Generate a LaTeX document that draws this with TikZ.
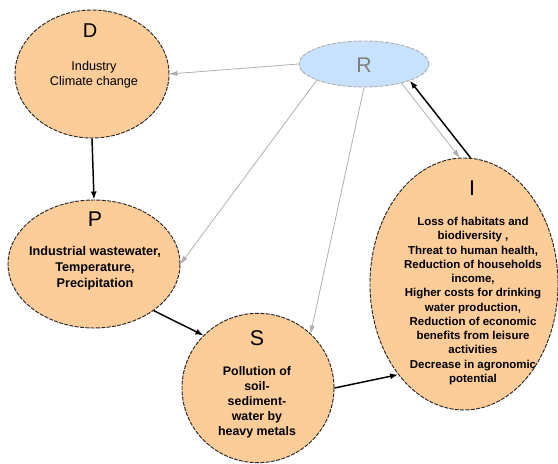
\documentclass[tikz,border=0pt]{standalone}
\usepackage{fontspec}
\setmainfont{Liberation Sans}
\usetikzlibrary{shapes.geometric, arrows.meta, patterns}

\definecolor{peach}{RGB}{252,204,153}
\definecolor{skyfill}{RGB}{196,224,255}
\definecolor{linkgray}{RGB}{175,175,175}

\begin{document}
\begin{tikzpicture}[
            x=0.75pt, y=-0.75pt,
            stage/.style={ellipse, draw=black!85, fill=peach, line width=0.7pt, dash pattern=on 3pt off 1pt, inner sep=0pt},
            title/.style={font=\fontsize{16}{18}\selectfont},
            body/.style={align=center, font=\fontsize{9.5}{11.5}\selectfont\bfseries},
            weak/.style={draw=linkgray, line width=0.6pt, -{Triangle[length=6pt, width=3.5pt]}},
            strong/.style={draw=black, line width=1.1pt, -{Latex[length=6pt, width=4.5pt]}},
        ]
            \useasboundingbox (0,0) rectangle (558,464);

            % the five ellipses
            \node[stage, minimum width=115.5pt, minimum height=96pt] (D) at (92,74) {};
            \node[stage, minimum width=129pt, minimum height=96pt] (P) at (94,264) {};
            \node[stage, minimum width=114pt, minimum height=112pt] (S) at (258,388) {};
            \node[stage, minimum width=141pt, minimum height=189pt] (I) at (464,284) {};
            \node[ellipse, draw=linkgray, line width=0.7pt, dash pattern=on 3pt off 1pt, inner sep=0pt,
                preaction={fill=skyfill}, pattern=crosshatch dots, pattern color=white!60!skyfill,
                minimum width=97.5pt, minimum height=34.5pt] (R) at (364,64) {};

            % titles
            \node[title, font=\fontsize{15}{17}\selectfont] (D-title) at (90,31) {D};
            \node[title] (P-title) at (95,219) {P};
            \node[title] (S-title) at (257,338) {S};
            \node[title] (I-title) at (472,188) {I};
            \node[title, text=black!50] (R-title) at (364,65) {R};

            % texts
            \node[align=center, font=\fontsize{9.5}{11}\selectfont] (D-text) at (94,75)
                {Industry\\Climate change};
            \node[body, font=\fontsize{9.5}{12}\selectfont\bfseries] (P-text) at (95,268)
                {Industrial wastewater,\\Temperature,\\Precipitation};
            \node[body, font=\fontsize{9.3}{11.2}\selectfont\bfseries] (S-text) at (257,402)
                {Pollution of\\soil-\\sediment-\\water by\\heavy metals};
            \node[body, font=\fontsize{8.6}{10.7}\selectfont\bfseries] (I-text) at (473,301)
                {Loss of habitats and\\biodiversity ,\\Threat to human health,\\Reduction of households\\income,\\Higher costs for drinking\\water production,\\Reduction of economic\\benefits from leisure\\activities\\Decrease in agronomic\\potential};

            % responses
            \draw[weak] (R.west) -- (D.east);
            \draw[weak] (R.199) -- (P.east);
            \draw[weak] (R.south) -- (S.46);
            \draw[weak] (R.-27) -- (I.92);
            \draw[strong] (I.87) -- (R.-20);

            % causal chain
            \draw[strong] (D.south) -- (P.north);
            \draw[strong] (P.-38) -- (S.136);
            \draw[strong] (S.east) -- (I.234);
        \end{tikzpicture}
\end{document}
